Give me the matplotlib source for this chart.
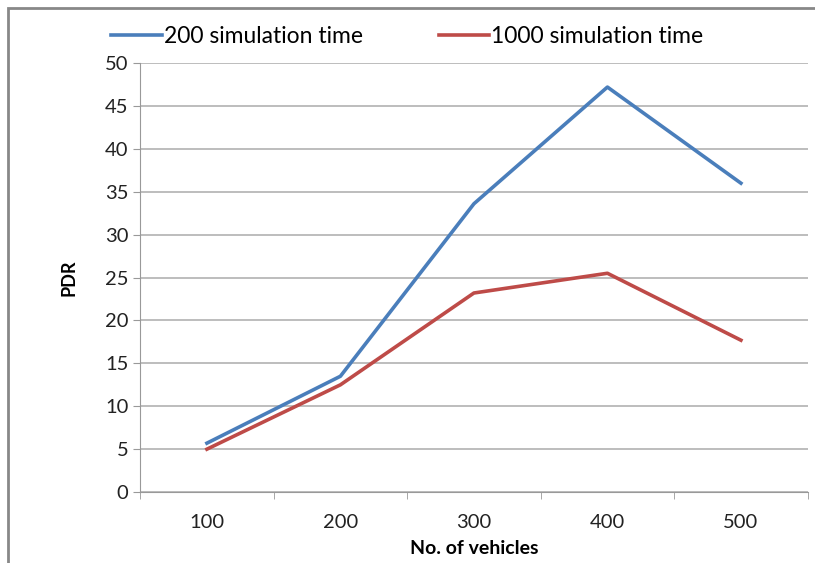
import matplotlib.pyplot as plt
import numpy as np
from matplotlib.patches import Rectangle

categories = ['100', '200', '300', '400', '500']
sim_200 = [5.7, 13.5, 33.6, 47.2, 36.0]
sim_1000 = [5.0, 12.5, 23.2, 25.5, 17.7]

plt.rcParams['font.family'] = ['Lato', 'DejaVu Sans']

fig = plt.figure(figsize=(8.15, 5.63), dpi=100)
ax = fig.add_axes([0.172, 0.126, 0.819, 0.762])

x = np.arange(len(categories))
ax.plot(x, sim_200, color='#4a7ebb', lw=2.6, label='200 simulation time')
ax.plot(x, sim_1000, color='#be4b48', lw=2.6, label='1000 simulation time')

ax.set_xlim(-0.5, len(categories) - 0.5)
ax.set_ylim(0, 50)
ax.set_yticks(np.arange(0, 51, 5))
ax.set_xticks(x)
ax.set_xticklabels(categories)
ax.set_xticks(np.arange(-0.5, len(categories), 1), minor=True)
ax.tick_params(axis='x', which='major', length=0, pad=16, labelsize=14.5, colors='#222222')
ax.tick_params(axis='x', which='minor', length=5, color='#999999')
ax.tick_params(axis='y', length=5, color='#999999', labelsize=14.5, colors='#222222')
ax.grid(axis='y', color='#b8b8b8', lw=1.3)
ax.set_axisbelow(True)

for s in ['top', 'right']:
    ax.spines[s].set_visible(False)
for s in ['left', 'bottom']:
    ax.spines[s].set_color('#999999')

ax.set_xlabel('No. of vehicles', fontsize=14, fontweight='bold')
ax.xaxis.label.set_va('center')
ax.xaxis.set_label_coords(0.5, -0.132)
ax.set_ylabel('PDR', fontsize=13, fontweight='bold', labelpad=20)

leg = fig.legend(loc='upper center', bbox_to_anchor=(0.5, 0.99), ncol=2, frameon=False,
                 fontsize=16.5, handlelength=2.2, handletextpad=0.1, columnspacing=3.3)

fig.patches.append(Rectangle((0.01, -0.02), 1.05, 1.005, transform=fig.transFigure,
                             fill=False, edgecolor='#888888', lw=2))

fig.savefig('out.png', dpi=100)
